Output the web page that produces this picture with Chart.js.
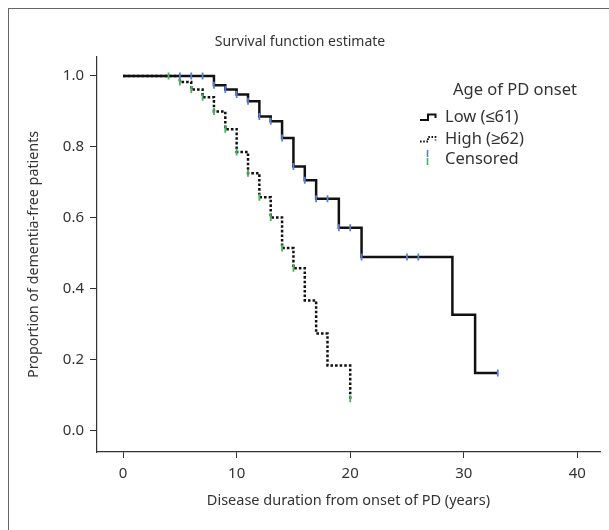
<!DOCTYPE html>
<html>
<head>
<meta charset="utf-8">
<script src="https://cdn.jsdelivr.net/npm/chart.js@4.4.1/dist/chart.umd.min.js"></script>
<style>
html, body { margin: 0; padding: 0; background: #fff; }
#wrap { position: relative; width: 609px; height: 530px; overflow: hidden; }
#frame { position: absolute; left: 8px; top: 8px; right: -4px; bottom: -4px; border-left: 1.5px solid #666; border-top: 1.5px solid #666; }
canvas { position: absolute; left: 0; top: 0; }
</style>
</head>
<body>
<div id="wrap"><div id="frame"></div><canvas id="km" width="609" height="530"></canvas></div>
<script>
// Kaplan-Meier steps
const lowTimes = [0, 8, 9, 10, 11, 12, 13, 14, 15, 16, 17, 19, 21, 29, 31, 33];
const lowSurv = [1.0, 0.974, 0.962, 0.948, 0.929, 0.886, 0.872, 0.825, 0.745, 0.706, 0.654, 0.572, 0.49, 0.327, 0.163, 0.163];
const highTimes = [0, 5, 6, 7, 8, 9, 10, 11, 12, 13, 14, 15, 16, 17, 18, 20];
const highSurv = [1.0, 0.983, 0.962, 0.940, 0.900, 0.850, 0.786, 0.726, 0.658, 0.601, 0.515, 0.458, 0.367, 0.274, 0.184, 0.09];

// censored observations
const lowCensTimes = [5, 6, 7, 8, 9, 10, 11, 12, 13, 14, 15, 16, 17, 18, 19, 20, 21, 25, 26, 33];
const lowCensSurv = [1.0, 1.0, 1.0, 0.974, 0.962, 0.948, 0.929, 0.886, 0.872, 0.825, 0.745, 0.706, 0.654, 0.654, 0.572, 0.572, 0.49, 0.49, 0.49, 0.163];
const highCensTimes = [4, 5, 6, 7, 8, 9, 10, 11, 12, 13, 14, 15, 20];
const highCensSurv = [1.0, 0.983, 0.962, 0.940, 0.900, 0.850, 0.786, 0.726, 0.658, 0.601, 0.515, 0.458, 0.09];

const xTicks = [0, 10, 20, 30, 40];
const yTicks = [0, 0.2, 0.4, 0.6, 0.8, 1.0];
const groupNames = ['Low (\u226461)', 'High (\u226562)', 'Censored'];

const pts = (xs, ys) => xs.map((x, i) => ({ x: x, y: ys[i] }));
const FONT = '"Noto Sans", sans-serif';
const TXT = '#333';
const BLUE = '#5a7fd6';
const GREEN = '#45b45a';

const kmLegend = {
    id: 'kmLegend',
    afterDraw(chart) {
        const c = chart.ctx;
        c.save();
        c.fillStyle = TXT;
        c.font = '16.5px ' + FONT;
        c.textBaseline = 'middle';
        c.textAlign = 'left';
        c.fillText('Age of PD onset', 453, 90);
        c.fillText(groupNames[0], 445, 117);
        c.fillText(groupNames[1], 445, 139);
        c.fillText(groupNames[2], 445, 159);

        c.strokeStyle = '#111';
        c.lineWidth = 2;
        c.beginPath();
        c.moveTo(420, 120); c.lineTo(428, 120); c.lineTo(428, 114.5);
        c.lineTo(435.5, 114.5); c.lineTo(435.5, 118);
        c.stroke();

        c.setLineDash([1.6, 1.6]);
        c.lineWidth = 1.8;
        c.beginPath();
        c.moveTo(420, 141.5); c.lineTo(428, 141.5); c.lineTo(428, 137);
        c.lineTo(435.5, 137); c.lineTo(435.5, 140.5);
        c.stroke();
        c.setLineDash([]);

        c.lineWidth = 1.6;
        c.strokeStyle = BLUE;
        c.beginPath(); c.moveTo(427.5, 150); c.lineTo(427.5, 157); c.stroke();
        c.strokeStyle = GREEN;
        c.beginPath(); c.moveTo(427.5, 158); c.lineTo(427.5, 165); c.stroke();
        c.restore();
    }
};

const ctx = document.getElementById('km').getContext('2d');
const chart = new Chart(ctx, {
    type: 'line',
    data: {
        datasets: [{
            label: groupNames[1],
            data: pts(highTimes, highSurv),
            stepped: true,
            borderColor: '#111',
            borderWidth: 2.5,
            borderDash: [2.6, 2],
            pointRadius: 0,
            fill: false,
            order: 3
        }, {
            label: groupNames[0],
            data: pts(lowTimes, lowSurv),
            stepped: true,
            borderColor: '#111',
            borderWidth: 2.5,
            pointRadius: 0,
            fill: false,
            order: 2
        }, {
            type: 'scatter',
            label: 'Censored high',
            data: pts(highCensTimes, highCensSurv),
            pointStyle: 'line',
            rotation: 90,
            radius: 3.5,
            borderWidth: 1.8,
            borderColor: GREEN,
            backgroundColor: GREEN,
            order: 1
        }, {
            type: 'scatter',
            label: 'Censored low',
            data: pts(lowCensTimes, lowCensSurv),
            pointStyle: 'line',
            rotation: 90,
            radius: 3.5,
            borderWidth: 1.8,
            borderColor: BLUE,
            backgroundColor: BLUE,
            order: 0
        }]
    },
    options: {
        responsive: false,
        animation: false,
        layout: { padding: { left: 0, right: 9, top: 0, bottom: 0 } },
        plugins: {
            legend: { display: false },
            tooltip: { enabled: false },
            title: {
                display: true,
                text: 'Survival function estimate',
                color: TXT,
                font: { family: FONT, size: 14, weight: 'normal', lineHeight: 1.2 },
                padding: { top: 34, bottom: 6 }
            }
        },
        scales: {
            x: {
                type: 'linear',
                min: -2.3,
                max: 42,
                afterBuildTicks: s => { s.ticks = xTicks.map(v => ({ value: v })); },
                afterFit: s => { s.height = 78; },
                grid: { drawOnChartArea: false, drawTicks: true, tickLength: 6, color: '#333', tickWidth: 1 },
                border: { display: true, color: '#333', width: 1.2 },
                ticks: { color: TXT, padding: 7, font: { family: FONT, size: 15 } },
                title: {
                    display: true,
                    text: 'Disease duration from onset of PD (years)',
                    color: TXT,
                    font: { family: FONT, size: 14.5 },
                    padding: { top: 0, bottom: 20 }
                }
            },
            y: {
                type: 'linear',
                min: -0.06,
                max: 1.054,
                afterBuildTicks: s => { s.ticks = yTicks.map(v => ({ value: v })); },
                afterFit: s => { s.width = 97; },
                grid: { drawOnChartArea: false, drawTicks: true, tickLength: 7, color: '#333', tickWidth: 1 },
                border: { display: true, color: '#333', width: 1.2 },
                ticks: {
                    color: TXT,
                    padding: 6,
                    font: { family: FONT, size: 15 },
                    callback: v => Number(v).toFixed(1)
                },
                title: {
                    display: true,
                    text: 'Proportion of dementia-free patients',
                    color: TXT,
                    font: { family: FONT, size: 14.3 },
                    padding: { top: 25, bottom: 0 }
                }
            }
        }
    },
    plugins: [kmLegend]
});
</script>
</body>
</html>
